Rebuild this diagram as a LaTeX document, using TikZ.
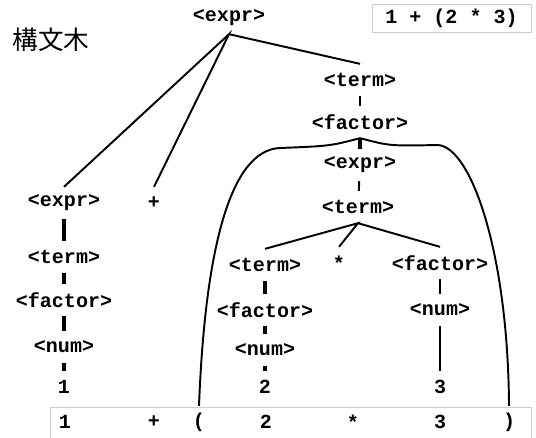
\documentclass[tikz,border=0pt]{standalone}
\usepackage{fontspec}
\setmonofont{Liberation Mono}
\newfontfamily\cjk{Noto Sans CJK JP}
\usepackage{tikz}
\usetikzlibrary{positioning, calc}
\definecolor{framegray}{RGB}{205, 205, 205}

\begin{document}
\begin{tikzpicture}[
    sym/.style={font=\fontsize{11.4}{13}\selectfont\ttfamily\bfseries, minimum height=18pt, inner sep=1pt},
    edge/.style={line width=1.1pt},
    bar/.style={line width=2.2pt},
    frame/.style={draw=framegray, line width=0.5pt}
]
    \useasboundingbox (0, 0) rectangle (10.72, -8.74);

    % Title and input
    \node[font=\cjk\fontsize{14.6}{16}\selectfont] (title) at (1.02, -0.8) {構文木};
    \node[sym, frame, minimum width=3.18cm, minimum height=0.56cm] (input) at (9.03, -0.36) {1 + (2 * 3)};

    % Root and its children
    \node[sym] (e0) at (4.58, -0.36) {<expr>};
    \node[sym] (e1) at (1.28, -4.06) {<expr>};
    \node[sym] (plus) at (3.08, -4.06) {+};
    \node[sym] (t0) at (7.2, -1.6) {<term>};
    \node[sym] (f0) at (7.2, -2.44) {<factor>};
    \node[sym] (e2) at (7.2, -3.3) {<expr>};
    \node[sym] (t2) at (7.16, -4.14) {<term>};

    % Left column
    \node[sym] (t1) at (1.28, -5.14) {<term>};
    \node[sym] (f1) at (1.28, -6.0) {<factor>};
    \node[sym] (n1) at (1.28, -6.94) {<num>};
    \node[sym] (d1) at (1.28, -7.74) {1};

    % Inner term
    \node[sym] (t3) at (5.3, -5.3) {<term>};
    \node[sym] (f3) at (5.3, -6.2) {<factor>};
    \node[sym] (n3) at (5.3, -7.0) {<num>};
    \node[sym] (d3) at (5.3, -7.74) {2};
    \node[sym] (star) at (6.78, -5.26) {*};
    \node[sym] (f4) at (8.8, -5.26) {<factor>};
    \node[sym] (n4) at (8.8, -6.2) {<num>};
    \node[sym] (d4) at (8.8, -7.74) {3};

    % Token row
    \draw[frame] (1.0, -8.8) |- (10.62, -8.14) -- (10.62, -8.8);
    \node[sym] (k1) at (1.3, -8.44) {1};
    \node[sym] (k2) at (3.08, -8.44) {+};
    \node[sym] (lp) at (3.98, -8.44) {(};
    \node[sym] (k3) at (5.32, -8.44) {2};
    \node[sym] (k4) at (7.06, -8.44) {*};
    \node[sym] (k5) at (8.8, -8.44) {3};
    \node[sym] (rp) at (10.18, -8.44) {)};

    % Tree edges
    \draw[edge] (e1.north) -- (e0.south) -- (plus.north);
    \draw[edge] (e0.south) -- (t0.north);
    \draw[edge] (t0) -- (f0);
    \draw[bar] (f0) -- (e2);
    \draw[edge] (e2) -- (t2);
    \draw[edge] (t3.north) -- (t2.south) -- (star.north);
    \draw[edge] (t2.south) -- (f4.north);
    \draw[bar] (e1) -- (t1);
    \draw[bar] (t1) -- (f1);
    \draw[bar] (f1) -- (n1);
    \draw[bar] (n1) -- (d1);
    \draw[bar] (t3) -- (f3);
    \draw[bar] (f3) -- (n3);
    \draw[bar] (n3) -- (d3);
    \draw[edge] (f4) -- (n4);
    \draw[edge] (n4) -- (d4);

    % Parentheses arcs
    \draw[edge] (f0.south) .. controls (6.6, -2.92) .. (5.6, -2.96)
        .. controls (4.6, -3.0) and (4.1, -5.0) .. (lp.north);
    \draw[edge] (f0.south) .. controls (7.8, -2.92) .. (8.74, -2.9)
        .. controls (9.4, -2.9) and (10.16, -5.0) .. (rp.north);

\end{tikzpicture}
\end{document}
